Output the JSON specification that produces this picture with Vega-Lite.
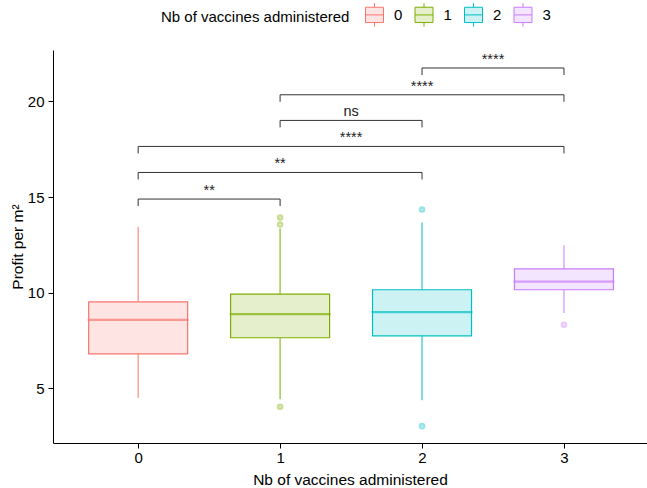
{
  "$schema": "https://vega.github.io/schema/vega-lite/v6.json",
  "width": 594,
  "height": 393,
  "autosize": {"type": "none"},
  "padding": {"left": 53, "top": 50, "right": 0, "bottom": 45},
  "background": "white",
  "config": {
    "font": "Liberation Sans",
    "view": {"stroke": null},
    "axis": {
      "domainColor": "#000000", "tickColor": "#000000", "labelColor": "#000000", "titleColor": "#000000",
      "labelFontSize": 15, "titleFontSize": 15.5, "titleFontWeight": "normal",
      "grid": false, "tickSize": 5, "domainWidth": 1, "tickWidth": 1
    },
    "legend": {
      "orient": "none", "legendX": 108, "legendY": -45, "direction": "horizontal",
      "titleOrient": "left", "titleLimit": 0, "labelLimit": 0,
      "symbolType": "M-1,-0.85H1V0.85H-1Z M-1,0H1 M0,-0.85V-1.3 M0,0.85V1.3",
      "symbolSize": 324, "symbolStrokeWidth": 1,
      "labelFontSize": 15, "titleFontSize": 15, "titleFontWeight": "normal",
      "labelOffset": 10, "columnPadding": 9.5, "titlePadding": 15,
      "labelColor": "#000000", "titleColor": "#000000"
    }
  },
  "datasets": {
    "boxes": [
      {"n": 0, "lower": 4.51, "q1": 6.81, "median": 8.59, "q3": 9.53, "upper": 13.45},
      {"n": 1, "lower": 4.44, "q1": 7.65, "median": 8.89, "q3": 9.93, "upper": 13.38},
      {"n": 2, "lower": 4.39, "q1": 7.75, "median": 8.99, "q3": 10.16, "upper": 13.67},
      {"n": 3, "lower": 8.94, "q1": 10.16, "median": 10.58, "q3": 11.25, "upper": 12.49}
    ],
    "outliers": [
      {"n": 1, "profit": 13.93},
      {"n": 1, "profit": 13.57},
      {"n": 1, "profit": 4.04},
      {"n": 2, "profit": 14.35},
      {"n": 2, "profit": 3.03},
      {"n": 3, "profit": 8.33}
    ],
    "brackets": [
      {"g1": 0, "g2": 1, "xmid": 0.5, "y": 14.9, "label": "**"},
      {"g1": 0, "g2": 2, "xmid": 1, "y": 16.29, "label": "**"},
      {"g1": 0, "g2": 3, "xmid": 1.5, "y": 17.65, "label": "****"},
      {"g1": 1, "g2": 2, "xmid": 1.5, "y": 19.01, "label": "ns"},
      {"g1": 1, "g2": 3, "xmid": 2, "y": 20.35, "label": "****"},
      {"g1": 2, "g2": 3, "xmid": 2.5, "y": 21.75, "label": "****"}
    ]
  },
  "layer": [
    {
      "data": {"name": "boxes"},
      "mark": {"type": "rule", "strokeWidth": 1.2, "strokeOpacity": 0.85},
      "encoding": {
        "x": {"field": "n", "type": "quantitative", "title": "Nb of vaccines administered",
              "scale": {"domain": [-0.6, 3.585], "nice": false, "zero": false, "padding": 0},
              "axis": {"values": [0, 1, 2, 3], "format": "d", "labelPadding": 2, "titleY": 41, "titleBaseline": "alphabetic"}},
        "y": {"field": "lower", "type": "quantitative", "title": "Profit per m²",
              "scale": {"domain": [2.15, 22.69], "nice": false, "zero": false, "padding": 0},
              "axis": {"values": [5, 10, 15, 20], "labelPadding": 4, "titleX": -31, "titleBaseline": "alphabetic"}},
        "y2": {"field": "upper"},
        "stroke": {"field": "n", "type": "nominal", "title": "Nb of vaccines administered",
                   "legend": {"encode": {"symbols": {"update": {
                       "fill": {"scale": "fill", "field": "value"},
                       "stroke": {"scale": "stroke", "field": "value"},
                       "opacity": {"value": 1}}}}}}
      }
    },
    {
      "data": {"name": "boxes"},
      "mark": {"type": "bar", "size": 99, "strokeWidth": 1.2},
      "encoding": {
        "x": {"field": "n", "type": "quantitative", "title": "Nb of vaccines administered"},
        "y": {"field": "q1", "type": "quantitative", "title": "Profit per m²"},
        "y2": {"field": "q3"},
        "fill": {"field": "n", "type": "nominal", "legend": null,
                 "scale": {"range": ["#FEE4E2", "#E5EFCC", "#CCF2F3", "#F4E5FF"]}},
        "stroke": {"field": "n", "type": "nominal", "title": "Nb of vaccines administered",
                   "scale": {"range": ["#F8766D", "#7CAE00", "#00BFC4", "#C77CFF"]},
                   "legend": {"encode": {"symbols": {"update": {
                       "fill": {"scale": "fill", "field": "value"},
                       "stroke": {"scale": "stroke", "field": "value"},
                       "opacity": {"value": 1}}}}}}
      }
    },
    {
      "data": {"name": "boxes"},
      "mark": {"type": "tick", "orient": "horizontal", "size": 99, "thickness": 0.5, "filled": false, "strokeWidth": 1.8},
      "encoding": {
        "x": {"field": "n", "type": "quantitative", "title": "Nb of vaccines administered"},
        "y": {"field": "median", "type": "quantitative", "title": "Profit per m²"},
        "stroke": {"field": "n", "type": "nominal", "title": "Nb of vaccines administered"}
      }
    },
    {
      "data": {"name": "outliers"},
      "mark": {"type": "point", "filled": false, "size": 7, "strokeWidth": 4, "opacity": 0.4},
      "encoding": {
        "x": {"field": "n", "type": "quantitative", "title": "Nb of vaccines administered"},
        "y": {"field": "profit", "type": "quantitative", "title": "Profit per m²"},
        "stroke": {"field": "n", "type": "nominal", "title": "Nb of vaccines administered"}
      }
    },
    {
      "data": {"name": "brackets"},
      "mark": {"type": "rule", "color": "#333333", "strokeWidth": 1},
      "encoding": {
        "x": {"field": "g1", "type": "quantitative", "title": "Nb of vaccines administered"},
        "x2": {"field": "g2"},
        "y": {"field": "y", "type": "quantitative", "title": "Profit per m²"}
      }
    },
    {
      "data": {"name": "brackets"},
      "mark": {"type": "rule", "color": "#333333", "strokeWidth": 1, "y2Offset": 7},
      "encoding": {
        "x": {"field": "g1", "type": "quantitative", "title": "Nb of vaccines administered"},
        "y": {"field": "y", "type": "quantitative", "title": "Profit per m²"},
        "y2": {"field": "y"}
      }
    },
    {
      "data": {"name": "brackets"},
      "mark": {"type": "rule", "color": "#333333", "strokeWidth": 1, "y2Offset": 7},
      "encoding": {
        "x": {"field": "g2", "type": "quantitative", "title": "Nb of vaccines administered"},
        "y": {"field": "y", "type": "quantitative", "title": "Profit per m²"},
        "y2": {"field": "y"}
      }
    },
    {
      "data": {"name": "brackets"},
      "mark": {"type": "text", "fontSize": 14.5, "dy": -4, "baseline": "alphabetic", "align": "center", "color": "#222222"},
      "encoding": {
        "x": {"field": "xmid", "type": "quantitative", "title": "Nb of vaccines administered"},
        "y": {"field": "y", "type": "quantitative", "title": "Profit per m²"},
        "text": {"field": "label"}
      }
    }
  ]
}
